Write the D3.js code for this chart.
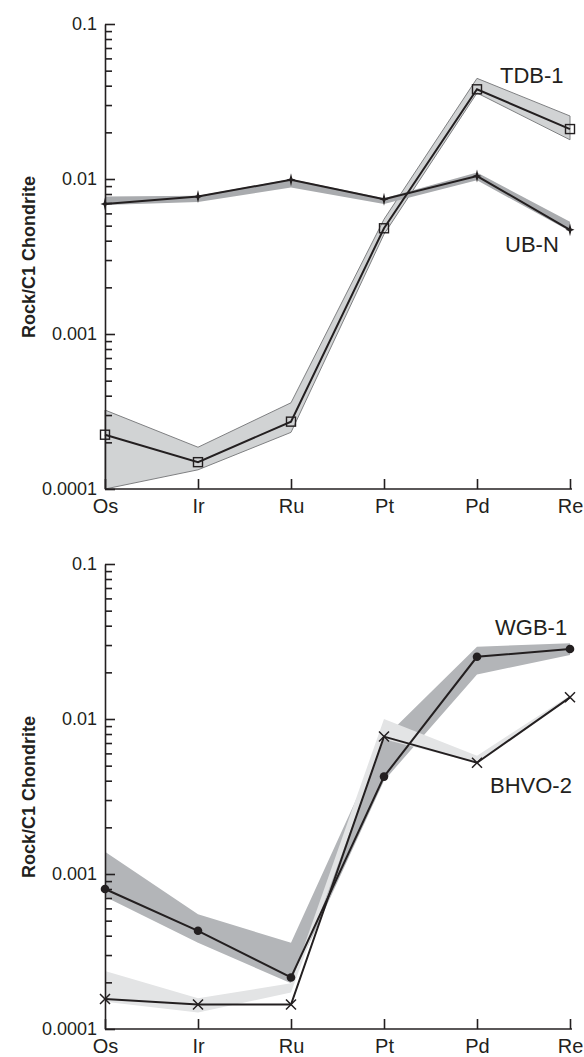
<!DOCTYPE html>
<html>
<head>
<meta charset="utf-8">
<script src="https://cdn.jsdelivr.net/npm/d3@7"></script>
<style>
  body { margin: 0; background: #fff; }
  svg { font-family: "Liberation Sans", Arial, Helvetica, sans-serif; }
  .axis path, .axis line { stroke: #231f20; stroke-width: 1.6; }
  .axis text { fill: #231f20; }
</style>
</head>
<body>
<svg id="svg"></svg>
<script>
// elements along the x axis
let elements = ["Os", "Ir", "Ru", "Pt", "Pd", "Re"];
let majorTicks = [0.0001, 0.001, 0.01, 0.1];
let tickLabels = ["0.0001", "0.001", "0.01", "0.1"];

// top panel
let tdb1 = [0.000224, 0.000149, 0.000272, 0.00481, 0.0379, 0.021];
let tdb1Hi = [0.000323, 0.000186, 0.00036, 0.0055, 0.0446, 0.0255];
let tdb1Lo = [0.0001, 0.000133, 0.000232, 0.0044, 0.0359, 0.0179];

let ubn = [0.0069, 0.0077, 0.0099, 0.0074, 0.01045, 0.0047];
let ubnHi = [0.0077, 0.0078, 0.0100, 0.0075, 0.0110, 0.0053];
let ubnLo = [0.0068, 0.0071, 0.0088, 0.0069, 0.0098, 0.0046];

// bottom panel
let wgb1 = [0.0008, 0.00043, 0.000215, 0.00425, 0.0252, 0.0283];
let wgb1Hi = [0.00139, 0.00055, 0.00036, 0.0075, 0.0293, 0.0308];
let wgb1Lo = [0.000714, 0.00036, 0.000197, 0.0040, 0.0194, 0.0259];

let bhvo2 = [0.000156, 0.000144, 0.000144, 0.0077, 0.00522, 0.0138];
let bhvo2Hi = [0.000237, 0.000158, 0.000197, 0.0100, 0.0058, 0.0142];
let bhvo2Lo = [0.000150, 0.000128, 0.000172, 0.0074, 0.0052, 0.0136];

// colors
let ink = "#231f20";

let svg = d3.select("#svg").attr("width", 584).attr("height", 1057);

let x = d3.scalePoint().domain(elements).range([105, 570]);
let y = d3.scaleLog().domain([0.0001, 0.1]).range([489, 24]);

let minorTicks = [];
majorTicks.slice(0, 3).forEach(function (m) {
  for (let k = 2; k <= 9; k++) minorTicks.push(m * k);
});

// 4 point star used for UB-N
let star4 = {
  draw: function (ctx) {
    ctx.moveTo(0, -6.5);
    ctx.lineTo(1.3, -1.3);
    ctx.lineTo(4.5, 0);
    ctx.lineTo(1.3, 1.3);
    ctx.lineTo(0, 6.5);
    ctx.lineTo(-1.3, 1.3);
    ctx.lineTo(-4.5, 0);
    ctx.lineTo(-1.3, -1.3);
    ctx.closePath();
  }
};

let band = d3.area()
  .x(function (d) { return x(d.el); })
  .y0(function (d) { return y(d.lo); })
  .y1(function (d) { return y(d.hi); });

let line = d3.line()
  .x(function (d) { return x(d.el); })
  .y(function (d) { return y(d.v); });

function rows(vals, hi, lo) {
  return elements.map(function (el, i) { return { el: el, v: vals[i], hi: hi[i], lo: lo[i] }; });
}

function drawBand(g, data, fill, stroke) {
  g.append("path").datum(data)
    .attr("d", band)
    .attr("fill", fill)
    .attr("stroke", stroke || "none")
    .attr("stroke-width", 1)
    .attr("stroke-linejoin", "round");
}

function drawSeries(g, data, marker) {
  g.append("path").datum(data)
    .attr("d", line)
    .attr("fill", "none")
    .attr("stroke", ink)
    .attr("stroke-width", 2);

  let pts = g.append("g").selectAll("g").data(data).join("g")
    .attr("transform", function (d) { return "translate(" + x(d.el) + "," + y(d.v) + ")"; });

  if (marker == "square") {
    pts.append("rect").attr("x", -4.5).attr("y", -4.5).attr("width", 9).attr("height", 9)
      .attr("fill", "none").attr("stroke", ink).attr("stroke-width", 1.4);
  } else if (marker == "star") {
    pts.append("path").attr("d", d3.symbol().type(star4)()).attr("fill", ink);
  } else if (marker == "circle") {
    pts.append("circle").attr("r", 4.3).attr("fill", ink);
  } else if (marker == "cross") {
    pts.append("path").attr("d", "M-5,-5L5,5M-5,5L5,-5")
      .attr("stroke", ink).attr("stroke-width", 1.5);
  }
}

function drawAxes(g) {
  // minor ticks
  g.append("g").attr("class", "axis")
    .attr("transform", "translate(105,0)")
    .call(d3.axisLeft(y).tickValues(minorTicks).tickSize(-7).tickFormat(""))
    .call(function (a) { a.select(".domain").remove(); });

  // major ticks and labels
  g.append("g").attr("class", "axis")
    .attr("transform", "translate(105,0)")
    .call(d3.axisLeft(y).tickValues(majorTicks).tickSizeInner(-10).tickSizeOuter(0).tickPadding(8)
      .tickFormat(function (d, i) { return tickLabels[i]; }))
    .call(function (a) { a.selectAll("text").attr("font-size", 18); });

  g.append("g").attr("class", "axis")
    .attr("transform", "translate(0,489)")
    .call(d3.axisBottom(x).tickSizeInner(-10).tickSizeOuter(0).tickPadding(10))
    .call(function (a) {
      a.selectAll("text").attr("font-size", 20);
      a.select(".domain").attr("d", "M105,0H572");
    });

  g.append("text")
    .attr("transform", "translate(35,257) rotate(-90)")
    .attr("text-anchor", "middle")
    .attr("font-size", 18)
    .attr("font-weight", "bold")
    .attr("fill", ink)
    .text("Rock/C1 Chondrite");
}

function label(g, txt, lx, ly) {
  g.append("text").attr("x", lx).attr("y", ly)
    .attr("font-size", 22).attr("fill", ink).text(txt);
}

// top panel
let gTop = svg.append("g");
drawBand(gTop, rows(tdb1, tdb1Hi, tdb1Lo), "#d1d3d4", "#7f8082");
drawBand(gTop, rows(ubn, ubnHi, ubnLo), "#a9abae");
drawAxes(gTop);
drawSeries(gTop, rows(ubn, ubnHi, ubnLo), "star");
drawSeries(gTop, rows(tdb1, tdb1Hi, tdb1Lo), "square");
label(gTop, "TDB-1", 500, 83);
label(gTop, "UB-N", 505, 252);

// bottom panel
let gBottom = svg.append("g").attr("transform", "translate(0,540)");
drawBand(gBottom, rows(wgb1, wgb1Hi, wgb1Lo), "#b3b5b8");
drawBand(gBottom, rows(bhvo2, bhvo2Hi, bhvo2Lo), "#e3e4e5");
drawAxes(gBottom);
drawSeries(gBottom, rows(bhvo2, bhvo2Hi, bhvo2Lo), "cross");
drawSeries(gBottom, rows(wgb1, wgb1Hi, wgb1Lo), "circle");
label(gBottom, "WGB-1", 495, 95);
label(gBottom, "BHVO-2", 490, 253);
</script>
</body>
</html>
